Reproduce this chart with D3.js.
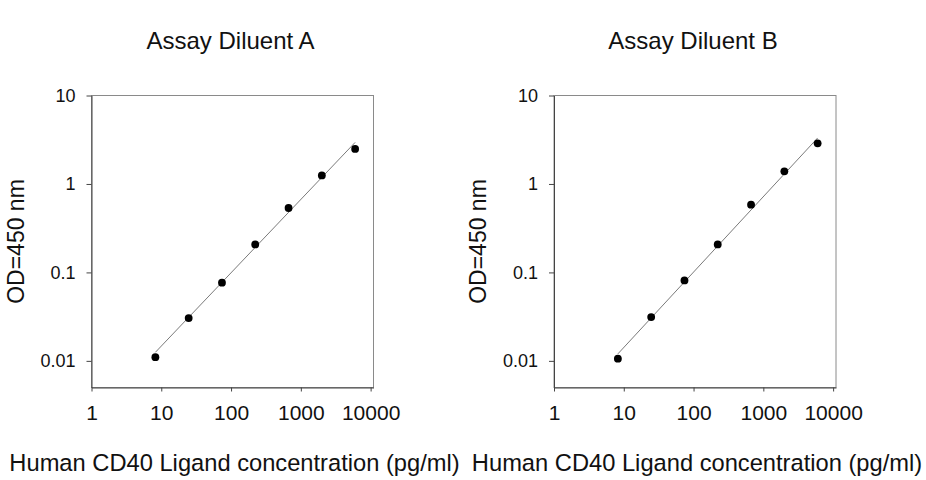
<!DOCTYPE html>
<html>
<head>
<meta charset="utf-8">
<script src="https://cdn.jsdelivr.net/npm/d3@7"></script>
<style>
  html, body { margin: 0; padding: 0; background: #fff; }
  svg { display: block; font-family: "Liberation Sans", Arial, sans-serif; }
</style>
</head>
<body>
<svg id="chart" width="926" height="480"></svg>
<script>
// standard points (pg/ml), 3-fold dilutions
var concentrations = [8.23, 24.7, 74.1, 222, 667, 2000, 6000];
var odDiluentA = [0.011, 0.0305, 0.0765, 0.207, 0.535, 1.25, 2.49];
var odDiluentB = [0.0106, 0.0313, 0.0812, 0.207, 0.583, 1.39, 2.88];

// fitted curve ends
var fitConc = [8.23, 6000];
var fitA = [0.0125, 2.95];
var fitB = [0.012, 3.31];

var panelTitles = ["Assay Diluent A", "Assay Diluent B"];
var xTicks = [1, 10, 100, 1000, 10000];
var yTicks = [0.01, 0.1, 1, 10];
var xLabel = "Human CD40 Ligand concentration (pg/ml)";
var yLabel = "OD=450 nm";

var plotW = 282,
    plotH = 292,
    plotTop = 95.5;
var panelLeft = [91.5, 554];

var svg = d3.select("#chart");

var x = d3.scaleLog().domain([1, 11000]).range([0, plotW]);
var y = d3.scaleLog().domain([0.005, 10]).range([plotH, 0]);

function drawPanel(i, od, fit) {
    var g = svg.append("g")
        .attr("transform", "translate(" + panelLeft[i] + "," + plotTop + ")");

    // light frame on top / right
    g.append("rect")
        .attr("x", 0)
        .attr("y", 0)
        .attr("width", plotW)
        .attr("height", plotH)
        .attr("fill", "none")
        .attr("stroke", "#8a8a8a")
        .attr("stroke-width", 1);

    var xAxis = g.append("g")
        .attr("transform", "translate(0," + plotH + ")")
        .call(d3.axisBottom(x).tickValues(xTicks).tickFormat(d => d)
            .tickSize(4).tickSizeOuter(0).tickPadding(14));

    var yAxis = g.append("g")
        .call(d3.axisLeft(y).tickValues(yTicks).tickFormat(d => d)
            .tickSize(5).tickSizeOuter(0).tickPadding(11));

    xAxis.selectAll("path, line").attr("stroke", "#444");
    yAxis.selectAll("path, line").attr("stroke", "#444");
    xAxis.selectAll("text")
        .attr("font-size", "21px")
        .attr("font-family", "Liberation Sans, Arial, sans-serif")
        .attr("fill", "#111");
    yAxis.selectAll("text")
        .attr("font-size", "18px")
        .attr("font-family", "Liberation Sans, Arial, sans-serif")
        .attr("fill", "#111");

    var line = d3.line()
        .x(d => x(d[0]))
        .y(d => y(d[1]));

    g.append("path")
        .datum(fitConc.map((c, k) => [c, fit[k]]))
        .attr("d", line)
        .attr("fill", "none")
        .attr("stroke", "#7a7a7a")
        .attr("stroke-width", 1);

    g.selectAll("circle")
        .data(concentrations.map((c, k) => [c, od[k]]))
        .enter()
        .append("circle")
        .attr("cx", d => x(d[0]))
        .attr("cy", d => y(d[1]))
        .attr("r", 3.9)
        .attr("fill", "#000");

    g.append("text")
        .attr("x", plotW / 2 - 2)
        .attr("y", 48.5 - plotTop)
        .attr("text-anchor", "middle")
        .attr("font-size", "24px")
        .attr("fill", "#111")
        .text(panelTitles[i]);

    g.append("text")
        .attr("transform", "translate(" + (23.5 - 91.5) + "," + (241.5 - plotTop) + ") rotate(-90)")
        .attr("text-anchor", "middle")
        .attr("font-size", "23px")
        .attr("fill", "#111")
        .text(yLabel);

    g.append("text")
        .attr("x", plotW / 2 + 2)
        .attr("y", 471 - plotTop)
        .attr("text-anchor", "middle")
        .attr("font-size", "23.7px")
        .attr("fill", "#111")
        .text(xLabel);
}

drawPanel(0, odDiluentA, fitA);
drawPanel(1, odDiluentB, fitB);
</script>
</body>
</html>
